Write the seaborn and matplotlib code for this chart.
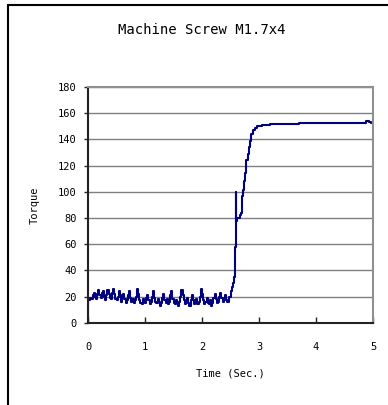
import numpy as np
import pandas as pd
import matplotlib
matplotlib.use("Agg")
import matplotlib.pyplot as plt
import seaborn as sns
from matplotlib.lines import Line2D

# ---- data ----
noise_vals = [17, 19, 18, 21, 23, 20, 18, 22, 25, 21, 19, 23, 24, 20, 17, 21, 25, 22, 19, 18,
              23, 26, 22, 18, 17, 20, 24, 21, 16, 19, 22, 18, 15, 17, 21, 24, 19, 16, 18, 15,
              17, 20, 26, 22, 17, 15, 14, 18, 16, 15, 19, 21, 17, 14, 16, 20, 24, 19, 16, 15,
              18, 16, 13, 15, 19, 22, 17, 15, 18, 14, 16, 21, 24, 18, 15, 14, 17, 15, 13, 16,
              20, 25, 21, 17, 14, 16, 19, 15, 13, 17, 21, 17, 14, 15, 18, 14, 16, 20, 26, 22,
              17, 14, 16, 19, 15, 14, 17, 13, 15, 19, 22, 18, 15, 16, 20, 23, 19, 16, 18, 21,
              17, 16]
noise_times = [round(0.02 * (k + 1), 3) for k in range(len(noise_vals))]

rise_times = [2.47, 2.50, 2.53, 2.55, 2.565, 2.575, 2.585, 2.59, 2.595, 2.60, 2.62, 2.66,
              2.69, 2.70, 2.72, 2.735, 2.75, 2.765, 2.78, 2.80, 2.82, 2.84, 2.86, 2.89,
              2.93, 2.97, 3.05, 3.2, 3.4, 3.7, 4.0, 4.5, 4.85, 4.88, 4.93, 4.96, 5.0]
rise_vals = [20, 24, 27, 30, 35, 50, 58, 100, 60, 78, 80, 82,
             84, 97, 101, 108, 114, 120, 124, 129, 134, 139, 144, 147,
             148.5, 150, 151, 151.5, 152, 152.5, 152.5, 152.5, 152.5, 153.8, 153.2, 152.5, 152.5]

time = [0.0, 0.005] + noise_times + rise_times
torque = [0, 18] + noise_vals + rise_vals

y_ticks = [0, 20, 40, 60, 80, 100, 120, 140, 160, 180]
x_ticks = [0, 1, 2, 3, 4, 5]

title = "Machine Screw M1.7x4"
xlabel = "Time (Sec.)"
ylabel = "Torque"

df = pd.DataFrame({"time": time, "torque": torque})

# ---- figure ----
sns.set_theme(style="white")
plt.rcParams["font.family"] = ["DejaVu Sans Mono", "DejaVu Sans"]
plt.rcParams["text.color"] = "black"
plt.rcParams["axes.labelcolor"] = "black"
plt.rcParams["xtick.color"] = "black"
plt.rcParams["ytick.color"] = "black"

fig = plt.figure(figsize=(3.88, 4.05), dpi=100)
ax = fig.add_axes([88 / 388, 1 - 322.7 / 405, (373 - 88) / 388, (322.7 - 87) / 405])

sns.lineplot(data=df, x="time", y="torque", ax=ax, color="#000080",
             linewidth=1.5, estimator=None, sort=False, drawstyle="steps-post")

ax.set_xlim(0, 5)
ax.set_ylim(0, 180)
ax.set_xticks(x_ticks)
ax.set_yticks(y_ticks)
ax.set_xticklabels([str(v) for v in x_ticks])
ax.set_yticklabels([str(v) for v in y_ticks])

ax.yaxis.grid(True, color="#808080", linewidth=1.0)
ax.xaxis.grid(False)
ax.set_axisbelow(True)

for side in ["left", "bottom"]:
    ax.spines[side].set_color("#222222")
    ax.spines[side].set_linewidth(1.5)
for side in ["right", "top"]:
    ax.spines[side].set_color("#909090")
    ax.spines[side].set_linewidth(1.5)
    ax.spines[side].set_visible(True)

ax.tick_params(axis="y", direction="out", length=3, width=1, color="#222222",
               labelsize=7.5, pad=5, left=True, labelcolor="black")
ax.tick_params(axis="x", direction="in", length=4, width=1, color="#222222",
               labelsize=7.5, pad=14, bottom=True, labelcolor="black")

ax.set_xlabel(xlabel, fontsize=7.5, labelpad=12, color="black")
ax.set_ylabel(ylabel, fontsize=7.5, labelpad=13, color="black")

fig.text(202 / 388, 1 - 30 / 405, title, ha="center", va="center", fontsize=10,
         color="black")

# outer chart-area border (left and top visible)
fig.add_artist(Line2D([8 / 388, 8 / 388], [0, 1 - 5 / 405], transform=fig.transFigure,
                      color="black", linewidth=1.5))
fig.add_artist(Line2D([8 / 388, 1], [1 - 5 / 405, 1 - 5 / 405], transform=fig.transFigure,
                      color="black", linewidth=1.5))

fig.savefig("out.png", dpi=100)
